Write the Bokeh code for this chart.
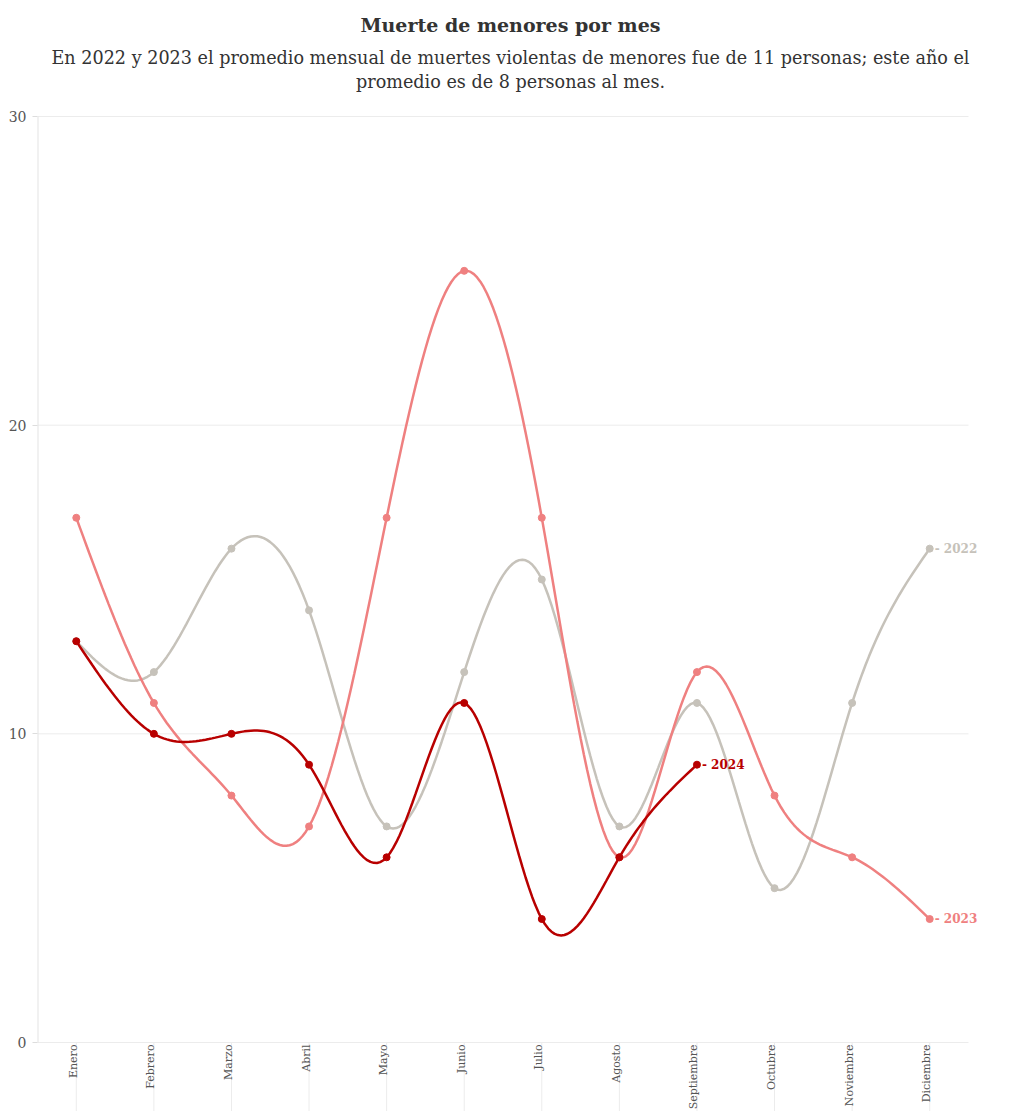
import numpy as np
from bokeh.plotting import figure
from bokeh.models import Range1d, FixedTicker, Label
from bokeh.core.properties import value
from bokeh.embed import file_html
from bokeh.resources import INLINE

title = "Muerte de menores por mes"
subtitle = ["En 2022 y 2023 el promedio mensual de muertes violentas de menores fue de 11 personas; este año el",
            "promedio es de 8 personas al mes."]
months = ["Enero", "Febrero", "Marzo", "Abril", "Mayo", "Junio", "Julio",
          "Agosto", "Septiembre", "Octubre", "Noviembre", "Diciembre"]
y2022 = [13, 12, 16, 14, 7, 12, 15, 7, 11, 5, 11, 16]
y2023 = [17, 11, 8, 7, 17, 25, 17, 6, 12, 8, 6, 4]
y2024 = [13, 10, 10, 9, 6, 11, 4, 6, 9]
y_ticks = [0, 10, 20, 30]

FONT = "DejaVu Serif"
C22, C23, C24 = "#c6c2ba", "#ef8080", "#b80000"


def natural_spline(ys, n=24):
    ys = np.asarray(ys, dtype=float)
    k = len(ys)
    xs = np.arange(k, dtype=float)
    A = np.zeros((k, k))
    b = np.zeros(k)
    A[0, 0] = 1
    A[-1, -1] = 1
    for i in range(1, k - 1):
        A[i, i - 1] = 1
        A[i, i] = 4
        A[i, i + 1] = 1
        b[i] = 6 * (ys[i + 1] - 2 * ys[i] + ys[i - 1])
    M = np.linalg.solve(A, b)
    px, py = [], []
    for i in range(k - 1):
        t = np.linspace(0, 1, n, endpoint=(i == k - 2))
        y = ((1 - t) * ys[i] + t * ys[i + 1]
             + ((1 - t) ** 3 - (1 - t)) * M[i] / 6
             + (t ** 3 - t) * M[i + 1] / 6)
        px.extend(xs[i] + t)
        py.extend(y)
    return px, py


W, H = 1004, 1111
LEFT = 37
PX_PER_Y = 926 / 30          # pixels per unit on y
PX_PER_X = 931 / 12          # pixels per month band
TOP_PAD = 116                # pixels from figure top to y=30
ytop = 30 + TOP_PAD / PX_PER_Y
ybottom = 30 - (H - TOP_PAD) / PX_PER_Y
xright = -0.5 + (W - LEFT) / PX_PER_X
xcenter = -0.5 - LEFT / PX_PER_X + 1020 / 2 / PX_PER_X
nM = len(months)


def y_at(px_from_top):
    return 30 + (TOP_PAD - px_from_top) / PX_PER_Y


p = figure(width=W, height=H, output_backend="svg", toolbar_location=None,
           x_range=Range1d(-0.5, xright), y_range=Range1d(ybottom, ytop),
           min_border_left=LEFT, min_border_right=0, min_border_top=0,
           min_border_bottom=0, background_fill_color="white",
           border_fill_color="white", outline_line_color=None)
p.title = None
p.xaxis.visible = False
p.xgrid.visible = False
p.ygrid.visible = False
yax = p.yaxis[0]
yax.ticker = FixedTicker(ticks=y_ticks)
yax.axis_line_color = None
yax.major_tick_line_color = "#dddddd"
yax.major_tick_out = 5
yax.major_tick_in = 0
yax.minor_tick_line_color = None
yax.major_label_text_font = FONT
yax.major_label_text_font_size = "14px"
yax.major_label_text_color = "#555555"
yax.major_label_standoff = 6

# horizontal grid lines
p.segment(x0=[-0.5] * len(y_ticks), y0=y_ticks, x1=[nM - 0.5] * len(y_ticks),
          y1=y_ticks, line_color="#ececec", line_width=1)
# left axis line from 0 to 30
p.segment(x0=[-0.5], y0=[0], x1=[-0.5], y1=[30], line_color="#e4e4e4", line_width=2)

# month tick lines below zero
idx = list(range(nM))
p.segment(x0=idx, y0=[0] * nM, x1=idx, y1=[ybottom] * nM,
          line_color="#ececec", line_width=1)
p.text(x=idx, y=[0] * nM, text=months, angle=np.pi / 2,
       text_align="right", text_baseline="alphabetic", x_offset=-3, y_offset=2,
       text_font=value(FONT), text_font_size="11px", text_color="#555555")

for ys, col in [(y2022, C22), (y2023, C23), (y2024, C24)]:
    sx, sy = natural_spline(ys)
    p.line(sx, sy, line_color=col, line_width=2.5)
    p.scatter(list(range(len(ys))), ys, size=7, color=col)

for ys, col, lab in [(y2022, C22, "2022"), (y2023, C23, "2023"), (y2024, C24, "2024")]:
    p.add_layout(Label(x=len(ys) - 1, y=ys[-1], text="- " + lab, x_offset=5,
                       text_baseline="middle", text_font=FONT, text_font_size="12px",
                       text_font_style="bold", text_color=col))

# title and subtitle
p.text(x=[xcenter], y=[y_at(24)], text=[title], text_align="center",
       text_baseline="middle", text_font=value(FONT), text_font_size="19px",
       text_font_style="bold", text_color="#333333")
p.text(x=[xcenter, xcenter], y=[y_at(57), y_at(81)], text=subtitle,
       text_align="center", text_baseline="middle", text_font=value(FONT),
       text_font_size="17.6px", text_color="#333333")

open("out.html", "w").write(file_html(p, INLINE))
